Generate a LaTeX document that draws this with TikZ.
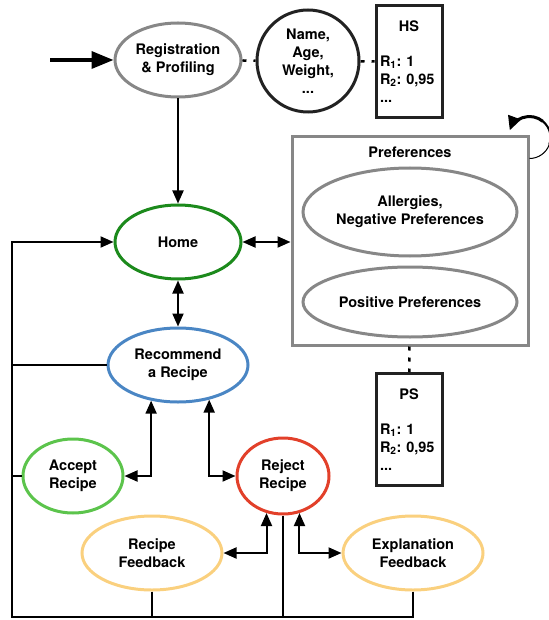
\documentclass[tikz,border=0pt]{standalone}
\usepackage{fontspec}
\setmainfont{TeX Gyre Heros}
\usetikzlibrary{arrows.meta,shapes.geometric}

\definecolor{regGray}{RGB}{135,135,135}
\definecolor{homeGreen}{RGB}{28,138,28}
\definecolor{acceptGreen}{RGB}{92,196,76}
\definecolor{recBlue}{RGB}{74,134,196}
\definecolor{rejRed}{RGB}{226,64,42}
\definecolor{fbYellow}{RGB}{250,208,126}
\definecolor{boxBlack}{RGB}{34,34,34}

\begin{document}
\begin{tikzpicture}[x=1pt,y=-1pt,>={Triangle[length=13pt,width=11pt]},
                    font=\fontsize{14.5}{18}\selectfont\bfseries\frenchspacing]

  %\tikzstyle{usecase}=[ellipse,draw,line width=2.5pt]
  \tikzstyle{usecase}=[ellipse,draw,line width=3pt,align=center,inner sep=0pt]
  \tikzstyle{store}=[rectangle,draw=boxBlack,line width=3pt,text width=58pt,
                     align=left,inner sep=4pt,minimum height=112pt]
  \tikzstyle{flow}=[line width=2pt]
  \tikzstyle{dotlink}=[line width=2.5pt,dash pattern=on 4pt off 7pt]

  \useasboundingbox (0,0) rectangle (548,620);

  \coordinate (Start) at (50,60);
  \coordinate (Loop) at (12,617);

  \node[usecase,draw=regGray,minimum width=126pt,minimum height=74pt]
    (Reg) at (178,60) {Registration\\\& Profiling};
  \node[circle,draw=boxBlack,line width=3pt,minimum size=102pt,align=center,
        inner sep=0pt]
    (Info) at (308,61) {Name,\\Age,\\Weight,\\...};
  \node[store]
    (HS) at (409,61.5) {\hfill HS\hfill\null\\[17pt]R\textsubscript{1}: 1\\
                        R\textsubscript{2}: 0,95\\...};

  \node[usecase,draw=homeGreen,minimum width=126pt,minimum height=74pt]
    (Home) at (178,242) {Home};
  \node[draw=regGray,line width=3pt,minimum width=236pt,minimum height=208pt]
    (Pref) at (410,241) {};
  \node
    (PrefTitle) at (410,152) {Preferences};
  \node[usecase,draw=regGray,minimum width=214pt,minimum height=88pt]
    (Neg) at (410,212) {Allergies,\\Negative Preferences};
  \node[usecase,draw=regGray,minimum width=214pt,minimum height=70pt]
    (Pos) at (410,302) {Positive Preferences};
  \node[store]
    (PS) at (409,429.5) {\hfill PS\hfill\null\\[17pt]R\textsubscript{1}: 1\\
                         R\textsubscript{2}: 0,95\\...};

  \node[usecase,draw=recBlue,minimum width=140pt,minimum height=74pt]
    (Rec) at (178,365) {Recommend\\a Recipe};
  \node[usecase,draw=acceptGreen,minimum width=100pt,minimum height=74pt]
    (Accept) at (73,476) {Accept\\Recipe};
  \node[usecase,draw=rejRed,minimum width=92pt,minimum height=76pt]
    (Reject) at (283,476) {Reject\\Recipe};
  \node[usecase,draw=fbYellow,minimum width=140pt,minimum height=74pt]
    (RecFb) at (152,553) {Recipe\\Feedback};
  \node[usecase,draw=fbYellow,minimum width=140pt,minimum height=74pt]
    (ExpFb) at (413,553) {Explanation\\Feedback};

  \draw[dotlink] (Reg) -- (Info);
  \draw[dotlink] (Info) -- (HS);
  \draw[dotlink] (Pref) -- (PS);

  \draw[->,>={Triangle[length=22pt,width=17pt]},line width=3.5pt] (Start) -- (Reg);
  \draw[flow,->] (Reg) -- (Home);
  \draw[flow,<->] (Home) -- (Home -| Pref.west);
  \draw[flow,<->] (Home) -- (Rec);
  \draw[flow,<->] (Accept.east) -| (Rec.233);
  \draw[flow,<->] (Rec.-48) |- (Reject.west);
  \draw[flow,<->] (RecFb.east) -| (Reject.-114);
  \draw[flow,<->] (Reject.-66) |- (ExpFb.west);

  \draw[flow,->] (ExpFb.south) |- (Loop) |- (Home.west);
  \draw[flow] (RecFb.south) -- (RecFb.south |- Loop);
  \draw[flow] (Reject.south) -- (Reject.south |- Loop);
  \draw[flow] (Rec.west) -- (Rec.west -| Loop);
  \draw[flow] (Accept.west) -- (Accept.west -| Loop);

  % self loop on the preferences, thin end first
  \draw[line width=1pt] ([yshift=-23pt]Pref.north east)
    arc[start angle=-90,end angle=-20,radius=21pt] coordinate (LoopA);
  \draw[line width=2pt] (LoopA)
    arc[start angle=-20,end angle=50,radius=21pt] coordinate (LoopB);
  \draw[line width=3pt,->,>={Triangle[length=14pt,width=13pt]}] (LoopB)
    arc[start angle=50,end angle=160,radius=21pt];

\end{tikzpicture}
\end{document}
